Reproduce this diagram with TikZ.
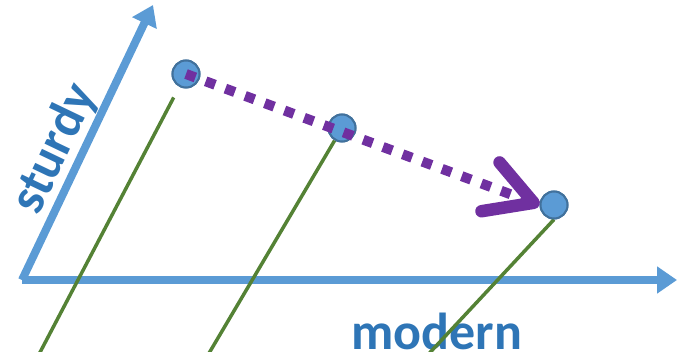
\documentclass[tikz,border=0pt]{standalone}
\usepackage{fontspec}
\setmainfont{Carlito}
\usetikzlibrary{arrows.meta}
\definecolor{axisblue}{HTML}{5B9BD5}
\definecolor{textblue}{HTML}{2E75B6}
\definecolor{dotedge}{HTML}{41719C}
\definecolor{stemgreen}{HTML}{548235}
\definecolor{routepurple}{HTML}{7030A0}

\begin{document}
\begin{tikzpicture}[x=1pt, y=-1pt, axis/.style={draw=axisblue, line width=8pt, -{Triangle[length=20pt, width=26pt]}}, dot/.style={circle, draw=dotedge, fill=axisblue, line width=2pt, minimum size=27pt, inner sep=0pt}, stem/.style={draw=stemgreen, line width=3.5pt}, route/.style={draw=routepurple, line width=10pt, dash pattern=on 10pt off 11pt, -{Straight Barb[length=46pt, width=52pt, line width=12.5pt, line cap=round, line join=round]}}, axis label/.style={text=textblue, font=\fontsize{52}{60}\selectfont\bfseries}]
\useasboundingbox (0,0) rectangle (677,352);
\coordinate (o) at (22,280);
\coordinate (xend) at (677,280);
\coordinate (yend) at (153,5);
\draw[axis] (o) -- (xend);
\draw[axis] (o) -- (yend);
\node[axis label, rotate=64.4] (sturdy) at (55,149) {sturdy};
\node[axis label, anchor=base] (modern) at (437,350) {modern};
\node[dot] (p1) at (186,74) {};
\node[dot] (p2) at (342,128) {};
\node[dot] (p3) at (554,205) {};
\coordinate (f1) at (36,360);
\coordinate (f2) at (205,360);
\coordinate (f3) at (423,360);
\path[stem]
(p1) edge[shorten <=12pt] (f1)
(p2) edge (f2)
(p3.south) edge (f3);
\node[dot] at (p1) {};
\node[dot] at (p2) {};
\node[dot] at (p3) {};
\draw[route] (p1.center) -- (p3.west);
\end{tikzpicture}
\end{document}
